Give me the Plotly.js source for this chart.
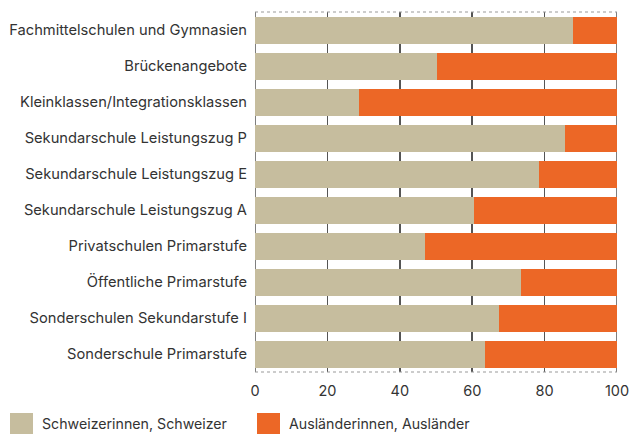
<!DOCTYPE html>
<html>
<head>
<meta charset="utf-8">
<script src="https://cdn.plot.ly/plotly-3.0.1.min.js"></script>
<style>html,body{margin:0;padding:0;background:#fff;}#chart{width:633px;height:434px;}</style>
</head>
<body>
<div id="chart"></div>
<script>
const categories = [
  "Fachmittelschulen und Gymnasien",
  "Brückenangebote",
  "Kleinklassen/Integrationsklassen",
  "Sekundarschule Leistungszug P",
  "Sekundarschule Leistungszug E",
  "Sekundarschule Leistungszug A",
  "Privatschulen Primarstufe",
  "Öffentliche Primarstufe",
  "Sonderschulen Sekundarstufe I",
  "Sonderschule Primarstufe"
];
const schweizer = [87.8, 50.2, 28.7, 85.6, 78.4, 60.4, 46.9, 73.4, 67.5, 63.5];
const auslaender = schweizer.map(v => +(100 - v).toFixed(1));
const seriesNames = ["Schweizerinnen, Schweizer", "Ausländerinnen, Ausländer"];
const seriesColors = ["#c6bd9e", "#ec6726"];
const xTicks = [0, 20, 40, 60, 80, 100];

const font = "Inter, Roboto, sans-serif";
const W = 633, H = 434;
const data = [
  {type: "bar", orientation: "h", y: categories, x: schweizer, name: seriesNames[0],
   marker: {color: seriesColors[0]}, hoverinfo: "x+y"},
  {type: "bar", orientation: "h", y: categories, x: auslaender, name: seriesNames[1],
   marker: {color: seriesColors[1]}, hoverinfo: "x+y"}
];

// Legend drawn in container pixel space (swatches + labels)
const legendX = [10, 257];
const legendShapes = legendX.map((lx, i) => ({
  type: "rect", xref: "paper", yref: "paper", layer: "above",
  x0: (lx - 255) / 362, x1: (lx + 23 - 255) / 362,
  y0: (372 - 434) / 360, y1: (372 - 413) / 360,
  fillcolor: seriesColors[i], line: {width: 0}
}));
const legendAnn = legendX.map((lx, i) => ({
  xref: "paper", yref: "paper", x: (lx + 30 - 255) / 362, y: (372 - 423.5) / 360,
  xanchor: "left", yanchor: "middle", showarrow: false, text: seriesNames[i],
  font: {family: font, size: 14.2, color: "#333"}
}));

const layout = {
  width: W, height: H,
  margin: {l: 255, r: 16, t: 12, b: 62},
  barmode: "stack", bargap: 0.25,
  paper_bgcolor: "#fff", plot_bgcolor: "#fff",
  font: {family: font, size: 14, color: "#333"},
  xaxis: {range: [0, 100], tickvals: xTicks, ticktext: xTicks.map(String),
    showgrid: true, gridcolor: "#555", gridwidth: 1.5, zeroline: false,
    showline: false, ticks: "", ticklabelstandoff: 8, fixedrange: true,
    tickfont: {size: 14.5, color: "#333"}},
  yaxis: {categoryorder: "array", categoryarray: categories, autorange: "reversed",
    ticks: "", ticklabelstandoff: 7, showgrid: false, zeroline: false, fixedrange: true,
    tickfont: {size: 14.7, color: "#333"}},
  shapes: [
    {type: "line", xref: "paper", yref: "paper", x0: 0, x1: 1, y0: 1, y1: 1,
     line: {color: "#999", width: 1, dash: "dot"}},
    {type: "line", xref: "paper", yref: "paper", x0: 0, x1: 1, y0: 0, y1: 0,
     line: {color: "#999", width: 1, dash: "dot"}},
    {type: "line", xref: "x", yref: "paper", x0: 0, x1: 0, y0: 0, y1: 1, layer: "below",
     line: {color: "#555", width: 1.5}},
    {type: "line", xref: "x", yref: "paper", x0: 100, x1: 100, y0: 0, y1: 1, layer: "below",
     line: {color: "#555", width: 1.5}}
  ].concat(legendShapes),
  annotations: legendAnn,
  showlegend: false
};
Plotly.newPlot("chart", data, layout, {displayModeBar: false, staticPlot: true});
</script>
</body>
</html>
